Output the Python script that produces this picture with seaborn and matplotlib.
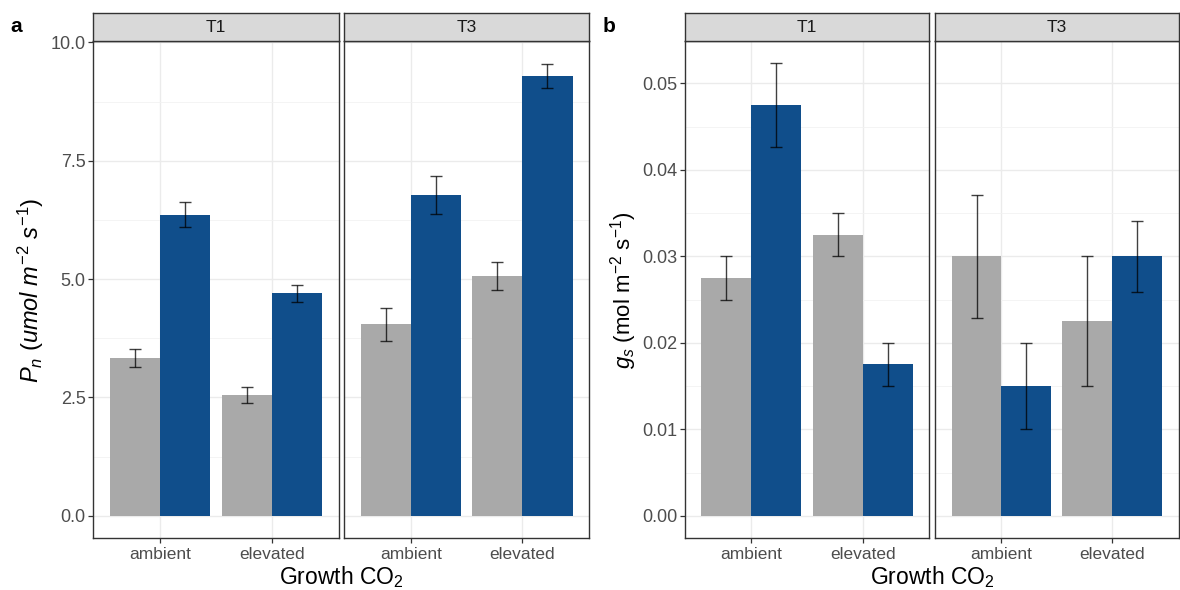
import numpy as np
import pandas as pd
import matplotlib
matplotlib.use("Agg")
import matplotlib.pyplot as plt
import seaborn as sns

# ---------------- data ----------------
co2_levels = ["ambient", "elevated"]
facets = ["T1", "T3"]
groups = ["control", "treated"]

# Panel a: net photosynthesis Pn (umol m-2 s-1)
pn_T1_control = [3.33, 2.55]
pn_T1_treated = [6.36, 4.70]
pn_T3_control = [4.04, 5.06]
pn_T3_treated = [6.77, 9.29]
pn_T1_control_se = [0.19, 0.17]
pn_T1_treated_se = [0.26, 0.18]
pn_T3_control_se = [0.34, 0.29]
pn_T3_treated_se = [0.40, 0.25]

# Panel b: stomatal conductance gs (mol m-2 s-1)
gs_T1_control = [0.0275, 0.0325]
gs_T1_treated = [0.0475, 0.0175]
gs_T3_control = [0.0300, 0.0225]
gs_T3_treated = [0.0150, 0.0300]
gs_T1_control_se = [0.0025, 0.0025]
gs_T1_treated_se = [0.0048, 0.0025]
gs_T3_control_se = [0.0071, 0.0075]
gs_T3_treated_se = [0.0050, 0.0041]

pn_ticks = [0.0, 2.5, 5.0, 7.5, 10.0]
pn_tick_labels = ["0.0", "2.5", "5.0", "7.5", "10.0"]
gs_ticks = [0.00, 0.01, 0.02, 0.03, 0.04, 0.05]
gs_tick_labels = ["0.00", "0.01", "0.02", "0.03", "0.04", "0.05"]


def make_df(ctrl, trt, ctrl_se, trt_se):
    rows = []
    for i, c in enumerate(co2_levels):
        rows.append(dict(co2=c, group=groups[0], value=ctrl[i], se=ctrl_se[i]))
        rows.append(dict(co2=c, group=groups[1], value=trt[i], se=trt_se[i]))
    return pd.DataFrame(rows)


pn_data = {
    "T1": make_df(pn_T1_control, pn_T1_treated, pn_T1_control_se, pn_T1_treated_se),
    "T3": make_df(pn_T3_control, pn_T3_treated, pn_T3_control_se, pn_T3_treated_se),
}
gs_data = {
    "T1": make_df(gs_T1_control, gs_T1_treated, gs_T1_control_se, gs_T1_treated_se),
    "T3": make_df(gs_T3_control, gs_T3_treated, gs_T3_control_se, gs_T3_treated_se),
}

# ---------------- style ----------------
sns.set_theme(style="white")
plt.rcParams["font.family"] = ["Liberation Sans", "DejaVu Sans"]
plt.rcParams["mathtext.fontset"] = "custom"
plt.rcParams["mathtext.rm"] = "Liberation Sans"
plt.rcParams["mathtext.it"] = "Liberation Sans:italic"
plt.rcParams["mathtext.bf"] = "Liberation Sans:bold"

palette = {groups[0]: "#A9A9A9", groups[1]: "#104E8B"}
BORDER = "#333333"
TICKTXT = "#4D4D4D"
STRIP_FILL = "#D9D9D9"

W, H = 1180, 590
fig = plt.figure(figsize=(W / 100, H / 100), dpi=100)


def fx(px):
    return px / W


def fy(py):
    return 1 - py / H


panel_top, panel_bot = 41.0, 538.3
strip_top = 13.3
facet_px = {
    "a": [(93.3, 338.7), (344.0, 589.3)],
    "b": [(684.7, 929.3), (935.0, 1178.5)],
}


def draw_panel(key, data, ticks, tick_labels, ylim, minor):
    axes = []
    for j, fac in enumerate(facets):
        x0, x1 = facet_px[key][j]
        ax = fig.add_axes([fx(x0), fy(panel_bot), fx(x1) - fx(x0), fy(panel_top) - fy(panel_bot)])
        df = data[fac]
        sns.barplot(data=df, x="co2", y="value", hue="group", order=co2_levels,
                    hue_order=groups, palette=palette, width=0.9, gap=0,
                    errorbar=None, saturation=1, ax=ax, legend=False, zorder=2,
                    linewidth=0)
        # error bars positioned from the bars seaborn drew
        for g, cont in zip(groups, ax.containers):
            sub = df[df.group == g].set_index("co2").loc[co2_levels]
            xs = [p.get_x() + p.get_width() / 2 for p in cont.patches]
            ax.errorbar(xs, sub["value"].values, yerr=sub["se"].values, fmt="none",
                        ecolor="black", alpha=0.75, elinewidth=1.0, capsize=4.5,
                        capthick=1.0, zorder=3)
        ax.set_xlim(-0.6, 1.6)
        ax.set_ylim(*ylim)
        ax.set_yticks(ticks)
        ax.set_yticks(minor, minor=True)
        ax.grid(True, which="major", color="#EBEBEB", lw=1.0, zorder=0)
        ax.grid(True, which="minor", axis="y", color="#F2F2F2", lw=0.6, zorder=0)
        ax.set_axisbelow(True)
        for s in ax.spines.values():
            s.set_color(BORDER)
            s.set_linewidth(1.0)
        ax.set_xlabel("")
        ax.set_ylabel("")
        ax.tick_params(axis="x", which="major", length=3.5, color=BORDER, width=0.9,
                       labelsize=12.5, labelcolor=TICKTXT, pad=3, bottom=True)
        if j == 0:
            ax.set_yticklabels(tick_labels)
            ax.tick_params(axis="y", which="major", length=3.5, color=BORDER, width=0.9,
                           labelsize=13, labelcolor=TICKTXT, pad=2, left=True)
        else:
            ax.tick_params(axis="y", which="major", left=False, labelleft=False)
        ax.tick_params(axis="y", which="minor", left=False)
        # strip
        sax = fig.add_axes([fx(x0), fy(panel_top), fx(x1) - fx(x0), fy(strip_top) - fy(panel_top)])
        sax.set_facecolor(STRIP_FILL)
        sax.set_xticks([])
        sax.set_yticks([])
        for s in sax.spines.values():
            s.set_color(BORDER)
            s.set_linewidth(1.0)
        sax.text(0.5, 0.47, fac, ha="center", va="center", fontsize=12.5, color="#1A1A1A",
                 transform=sax.transAxes)
        axes.append(ax)
    return axes


draw_panel("a", pn_data, pn_ticks, pn_tick_labels, (-0.478, 10.03),
           [1.25, 3.75, 6.25, 8.75])
draw_panel("b", gs_data, gs_ticks, gs_tick_labels, (-0.0026, 0.0549),
           [0.005, 0.015, 0.025, 0.035, 0.045])

# axis titles
fig.text(fx(341), fy(577), r"Growth CO$_2$", ha="center", va="center", fontsize=16.5, color="black")
fig.text(fx(932), fy(577), r"Growth CO$_2$", ha="center", va="center", fontsize=16.5, color="black")
fig.text(fx(31), fy(290), r"$P_n\ (umol\ m^{-2}\ s^{-1})$", ha="center", va="center",
         rotation=90, fontsize=17, color="black")
fig.text(fx(624), fy(290), r"$g_s$ (mol m$^{-2}$ s$^{-1}$)", ha="center", va="center",
         rotation=90, fontsize=16, color="black")

# panel tags
fig.text(fx(10), fy(27), "a", ha="left", va="center", fontsize=15, fontweight="bold", color="black")
fig.text(fx(603), fy(27), "b", ha="left", va="center", fontsize=15, fontweight="bold", color="black")

fig.savefig("out.png", dpi=100, facecolor="white")
